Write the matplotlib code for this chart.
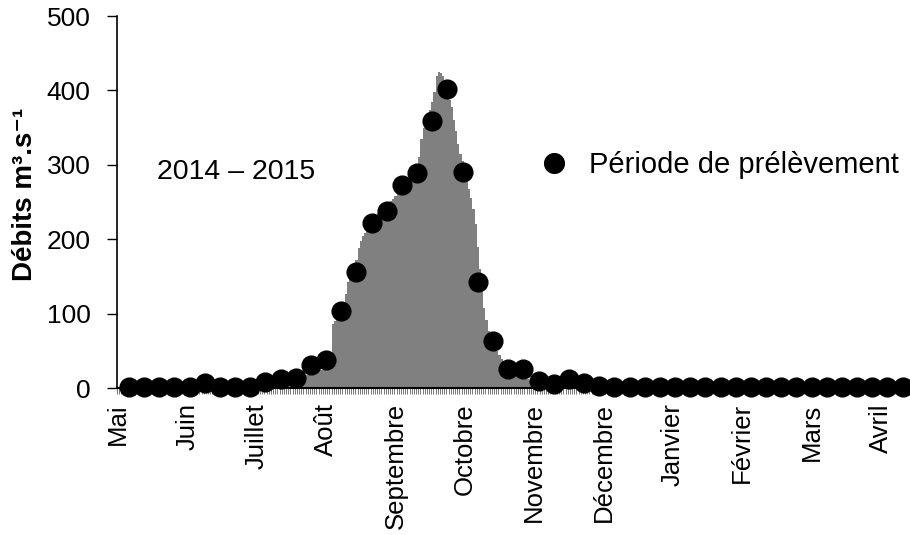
import numpy as np
import matplotlib
matplotlib.use("Agg")
import matplotlib.pyplot as plt

plt.rcParams["font.family"] = ["Liberation Sans", "DejaVu Sans"]

# débits journaliers (m3/s), 1er mai 2014 -> 30 avril 2015, un mois par liste
mai = [2, 2, 2, 2, 2, 2, 2, 2, 2, 1, 1, 1, 2, 2, 2, 2, 2, 2, 2, 2, 1, 1, 1, 1, 2, 2, 2, 2, 2, 2, 2]
juin = [2, 2, 2, 2, 2, 3, 4, 5, 6, 6, 5, 4, 3, 3, 2, 2, 2, 2, 2, 2, 2, 2, 2, 2, 2, 2, 2, 2, 2, 2]
juillet = [2, 2, 2, 3, 3, 4, 5, 6, 6, 7, 7, 8, 8, 9, 9, 10, 10, 11, 11, 12, 12, 13, 14, 15, 16, 17, 18, 19, 20, 21, 22]
aout = [23, 24, 24, 25, 25, 26, 27, 86, 90, 94, 100, 108, 116, 126, 142, 150, 157, 164, 172, 188,
        198, 204, 208, 213, 218, 222, 227, 231, 235, 239, 242]
septembre = [246, 248, 250, 252, 254, 258, 262, 266, 270, 273, 277, 280, 283, 286, 289, 292, 310, 335,
             350, 358, 367, 374, 385, 398, 420, 425, 424, 420, 400, 392]
octobre = [387, 378, 360, 345, 328, 315, 305, 298, 290, 268, 255, 240, 220, 190, 160, 130, 108, 92,
           76, 64, 58, 54, 50, 44, 39, 35, 32, 30, 28, 25, 22]
novembre = [20, 17, 15, 14, 13, 12, 11, 9, 8, 7, 5, 4, 4, 4, 3, 3, 3, 3, 3, 3, 3, 3, 3, 3, 3, 3, 3, 3, 3, 3]
decembre = [3, 3, 3, 3, 3, 3, 3, 3, 3, 3, 2, 2, 2, 2, 2, 2, 2, 2, 2, 2, 2, 2, 2, 2, 2, 2, 2, 2, 2, 2, 2]
janvier = [2, 2, 2, 2, 2, 2, 2, 2, 2, 2, 2, 2, 2, 2, 2, 2, 2, 2, 2, 2, 2, 2, 2, 2, 2, 2, 2, 2, 2, 2, 2]
fevrier = [2, 2, 2, 2, 2, 2, 2, 2, 2, 2, 2, 2, 2, 2, 2, 2, 2, 2, 2, 2, 2, 2, 2, 2, 2, 2, 2, 2]
mars = [2, 2, 2, 2, 2, 2, 2, 2, 2, 2, 2, 2, 2, 2, 2, 2, 2, 2, 2, 2, 2, 2, 2, 2, 2, 2, 2, 2, 2, 2, 2]
avril = [2, 2, 2, 2, 2, 2, 2, 2, 2, 2, 2, 2, 2, 2, 2, 2, 2, 2, 2, 2, 2, 2, 2, 2, 2, 2, 2, 2, 2, 2]

# prélèvements hebdomadaires (premier le 6 mai)
jour_prelev0 = 5
prelevements = [2, 2, 2, 2, 2, 7, 2, 2, 2, 8, 12, 14, 31, 38, 104, 156, 222, 238, 273, 289,
                359, 402, 290, 142, 63, 26, 26, 10, 6, 12, 7, 3,
                2, 2, 2, 2, 2, 2, 2, 2, 2, 2, 2, 2, 2, 2, 2, 2, 2, 2, 2, 2]

mois = ["Mai", "Juin", "Juillet", "Août", "Septembre", "Octobre", "Novembre",
        "Décembre", "Janvier", "Février", "Mars", "Avril"]
pas_etiquettes = 32

debits = np.array(mai + juin + juillet + aout + septembre + octobre + novembre
                  + decembre + janvier + fevrier + mars + avril)
jours = np.arange(len(debits))
jours_prelev = jour_prelev0 + 7 * np.arange(len(prelevements))

fig = plt.figure(figsize=(9.1, 5.35), dpi=100)
ax = fig.add_axes([117 / 910, 1 - 388 / 535, 791 / 910, 372 / 535])

ax.bar(jours, debits, width=1.0, color="#808080", linewidth=0, zorder=1)
ax.plot(jours_prelev, prelevements, "o", color="black", markersize=13.5,
        clip_on=False, zorder=3, label="Période de prélèvement")

ax.set_xlim(-0.5, len(debits) - 0.5)
ax.set_ylim(0, 500)
ax.set_yticks(range(0, 501, 100))
ax.tick_params(axis="y", direction="out", length=7, width=1, labelsize=19, pad=12)

ax.set_xticks(np.arange(len(mois)) * pas_etiquettes)
ax.set_xticklabels(mois, rotation=90, fontsize=18.5)
ax.tick_params(axis="x", which="major", length=0, pad=11)
ax.set_xticks(np.arange(len(debits) + 1) - 0.5, minor=True)
ax.tick_params(axis="x", which="minor", direction="out", length=4, width=0.5, color="#404040")

for s in ["top", "right"]:
    ax.spines[s].set_visible(False)
ax.spines["left"].set_linewidth(1.2)
ax.spines["bottom"].set_linewidth(1.5)
ax.spines["bottom"].set_zorder(2)

ax.set_ylabel("Débits m³.s⁻¹", fontsize=20, fontweight="bold")
ax.yaxis.set_label_coords(-0.1, 0.52)

ax.text(18, 290, "2014 – 2015", fontsize=20.5, ha="left", va="center")

ax.legend(loc="center left", bbox_to_anchor=(0.5335, 0.6), frameon=False,
          fontsize=21, handlelength=1.0, handletextpad=0.7, borderpad=0,
          borderaxespad=0, markerscale=1.05)

fig.savefig("out.png", dpi=100)
